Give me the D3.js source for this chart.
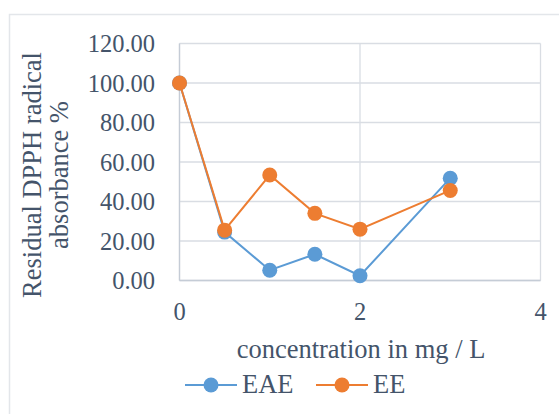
<!DOCTYPE html>
<html><head><meta charset="utf-8">
<script src="https://d3js.org/d3.v7.min.js"></script>
<style>body{margin:0;background:#fff;}svg{display:block;}</style>
</head><body>
<script>
const concentrations = [0, 0.5, 1, 1.5, 2, 3];
const eaeValues = [100, 24.5, 5.2, 13.3, 2.4, 51.8];
const eeValues = [100, 25.5, 53.4, 34.0, 26.0, 45.6];
const seriesNames = ["EAE", "EE"];
const yTicks = [0, 20, 40, 60, 80, 100, 120];
const xTicks = [0, 2, 4];

const W = 559, H = 414;
const textColor = "#44546A";
const gridColor = "#D9DDE3";
const colors = {EAE: "#5B9BD5", EE: "#ED7D31"};
const font = "'Liberation Serif', 'Times New Roman', serif";

const svg = d3.select("body").append("svg").attr("width", W).attr("height", H);
svg.append("rect").attr("x", 9.5).attr("y", 14.5).attr("width", W).attr("height", H)
  .attr("fill", "#fff").attr("stroke", "#E3E6EA").attr("stroke-width", 1.5);

const x = d3.scaleLinear().domain([0, 4]).range([179.5, 540.5]);
const y = d3.scaleLinear().domain([0, 120]).range([280.5, 43.5]);

// grid
svg.append("g").selectAll("line").data(yTicks).join("line")
  .attr("x1", x(0)).attr("x2", x(4)).attr("y1", d => y(d)).attr("y2", d => y(d))
  .attr("stroke", gridColor).attr("stroke-width", 1.3);
svg.append("g").selectAll("line").data(xTicks).join("line")
  .attr("x1", d => x(d)).attr("x2", d => x(d)).attr("y1", y(0)).attr("y2", y(120))
  .attr("stroke", gridColor).attr("stroke-width", 1.3);
// axis lines
svg.append("line").attr("x1", x(0)).attr("x2", x(4)).attr("y1", y(0)).attr("y2", y(0))
  .attr("stroke", "#C5CCD6").attr("stroke-width", 1.3);
svg.append("line").attr("x1", x(0)).attr("x2", x(0)).attr("y1", y(0)).attr("y2", y(120))
  .attr("stroke", "#C5CCD6").attr("stroke-width", 1.3);

// y tick labels
svg.append("g").selectAll("text").data(yTicks).join("text")
  .attr("x", 155).attr("y", d => y(d)).attr("dy", "0.35em")
  .attr("text-anchor", "end").attr("fill", textColor)
  .style("font-family", font).style("font-size", "24.5px")
  .text(d => d.toFixed(2));
// x tick labels
svg.append("g").selectAll("text").data(xTicks).join("text")
  .attr("x", d => x(d)).attr("y", 320)
  .attr("text-anchor", "middle").attr("fill", textColor)
  .style("font-family", font).style("font-size", "24.5px")
  .text(d => d);

// axis titles
svg.append("text").attr("x", 361).attr("y", 358).attr("text-anchor", "middle")
  .attr("fill", textColor).style("font-family", font).style("font-size", "26.5px")
  .text("concentration in mg / L");
const yt = svg.append("text").attr("transform", "translate(0,175) rotate(-90)")
  .attr("text-anchor", "middle").attr("fill", textColor)
  .style("font-family", font).style("font-size", "26.5px");
yt.append("tspan").attr("x", 0).attr("y", 41).text("Residual DPPH radical");
yt.append("tspan").attr("x", 0).attr("y", 68).text("absorbance %");

// series
const series = [
  {name: "EAE", values: eaeValues},
  {name: "EE", values: eeValues}
];
const line = d3.line().x(d => x(d[0])).y(d => y(d[1]));
series.forEach(s => {
  const pts = concentrations.map((c, i) => [c, s.values[i]]);
  svg.append("path").datum(pts).attr("d", line).attr("fill", "none")
    .attr("stroke", colors[s.name]).attr("stroke-width", 2);
  svg.append("g").selectAll("circle").data(pts).join("circle")
    .attr("cx", d => x(d[0])).attr("cy", d => y(d[1])).attr("r", 7.5)
    .attr("fill", colors[s.name]);
});

// legend
const legendX = [185, 316];
seriesNames.forEach((n, i) => {
  const lx = legendX[i];
  svg.append("line").attr("x1", lx).attr("x2", lx + 52).attr("y1", 385).attr("y2", 385)
    .attr("stroke", colors[n]).attr("stroke-width", 2);
  svg.append("circle").attr("cx", lx + 26).attr("cy", 385).attr("r", 7.5).attr("fill", colors[n]);
  svg.append("text").attr("x", lx + 57).attr("y", 393).attr("fill", textColor)
    .style("font-family", font).style("font-size", "26.5px").text(n);
});
</script>
</body></html>
